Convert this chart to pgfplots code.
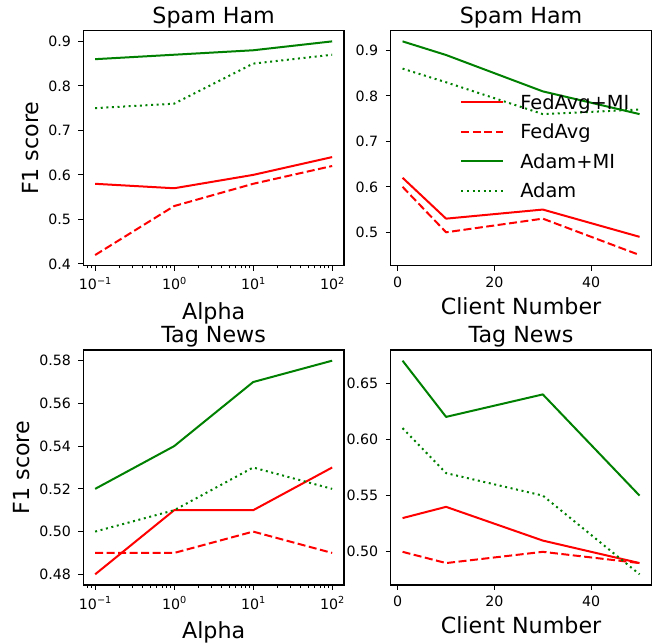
\documentclass[border=0pt]{standalone}
\usepackage{fontspec}
\setmainfont{DejaVu Sans}
\usepackage{pgfplots}
\pgfplotsset{compat=1.18}
\definecolor{mred}{RGB}{255,0,0}
\definecolor{mgreen}{RGB}{0,128,0}
\newcommand{\sups}[1]{10\raisebox{5.5pt}{\fontsize{9.7}{11}\selectfont #1}}
\pgfplotsset{
  mybase/.style={
    scale only axis, width=260.7pt, height=235pt, anchor=south west,
    axis line style={line width=1.1pt, black},
    every tick/.style={black, line width=1.1pt},
    every minor tick/.append style={line width=0.8pt},
    major tick length=4.9pt, minor tick length=2.8pt,
    tick align=outside, xtick pos=bottom, ytick pos=left,
    tick label style={font=\fontsize{14.2}{16}\selectfont},
    xticklabel style={yshift=-3pt},
    yticklabel style={xshift=-4pt},
    /pgf/number format/assume math mode=true,
    title style={font=\fontsize{22.2}{26}\selectfont, at={(axis description cs:0.5,1)}, anchor=base, yshift=1.5pt},
    label style={font=\fontsize{22.2}{26}\selectfont},
    every axis plot/.append style={line width=2pt, line join=round},
  },
  myalpha/.style={
    xmin=0.0708, xmax=141.25,
    xtick={0.1,1,10,100},
    xticklabels={{\sups{−1}},{\sups{0}},{\sups{1}},{\sups{2}}},
    minor xtick={0.08,0.09,0.2,0.3,0.4,0.5,0.6,0.7,0.8,0.9,2,3,4,5,6,7,8,9,20,30,40,50,60,70,80,90},
    xlabel={Alpha},
    xlabel style={at={(axis description cs:0.5,0)}, anchor=base, yshift=-54pt},
    ylabel={F1 score},
    ylabel style={at={(axis description cs:0,0.5)}, anchor=base},
  },
  myclient/.style={
    xmin=-1.45, xmax=52.45, xtick={0,20,40},
    xlabel={Client Number},
    xlabel style={at={(axis description cs:0.5,0)}, anchor=base, yshift=-49pt},
  },
  fmr/.style={mred, solid},
  fmd/.style={mred, dash pattern=on 8pt off 3.5pt},
  amr/.style={mgreen, solid},
  amd/.style={mgreen, dash pattern=on 2pt off 3.6pt},
}
\begin{document}
\begin{tikzpicture}
\useasboundingbox (0pt,0pt) rectangle (657pt,643pt);
% top left
\begin{semilogxaxis}[mybase, myalpha, at={(83.3pt,377.3pt)},
  title={Spam Ham}, ymin=0.396, ymax=0.924,
  ytick={0.4,0.5,0.6,0.7,0.8,0.9},
  yticklabel style={/pgf/number format/.cd, fixed, fixed zerofill, precision=1},
  ylabel style={yshift=45pt}]
\addplot[fmr] coordinates {(0.1,0.58)(1,0.57)(10,0.60)(100,0.64)};
\addplot[fmd] coordinates {(0.1,0.42)(1,0.53)(10,0.58)(100,0.62)};
\addplot[amr] coordinates {(0.1,0.86)(1,0.87)(10,0.88)(100,0.90)};
\addplot[amd] coordinates {(0.1,0.75)(1,0.76)(10,0.85)(100,0.87)};
\end{semilogxaxis}
% top right
\begin{axis}[mybase, myclient, at={(390.7pt,377.3pt)},
  title={Spam Ham}, ymin=0.4265, ymax=0.9435,
  ytick={0.5,0.6,0.7,0.8,0.9},
  yticklabel style={/pgf/number format/.cd, fixed, fixed zerofill, precision=1},
  legend style={draw=none, fill=none, at={(axis description cs:0.267,0.725)}, anchor=north west,
    inner sep=0pt, outer sep=0pt, row sep=15.2pt, column sep=16pt,
    font=\fontsize{19.4}{22}\selectfont,
    nodes={inner sep=0pt, text height=14.2pt, text depth=0pt}},
  legend cell align=left,
  legend image code/.code={\draw[#1] (0pt,0pt) -- (42pt,0pt);}]
\addplot[fmr] coordinates {(1,0.62)(10,0.53)(30,0.55)(50,0.49)};
\addplot[fmd] coordinates {(1,0.60)(10,0.50)(30,0.53)(50,0.45)};
\addplot[amr] coordinates {(1,0.92)(10,0.89)(30,0.81)(50,0.76)};
\addplot[amd] coordinates {(1,0.86)(10,0.83)(30,0.76)(50,0.77)};
\legend{FedAvg+MI,FedAvg,Adam+MI,Adam}
\end{axis}
% bottom left
\begin{semilogxaxis}[mybase, myalpha, at={(83.3pt,58pt)},
  title={Tag News}, ymin=0.475, ymax=0.585,
  ytick={0.48,0.50,0.52,0.54,0.56,0.58},
  yticklabel style={/pgf/number format/.cd, fixed, fixed zerofill, precision=2},
  ylabel style={yshift=54pt}]
\addplot[fmr] coordinates {(0.1,0.48)(1,0.51)(10,0.51)(100,0.53)};
\addplot[fmd] coordinates {(0.1,0.49)(1,0.49)(10,0.50)(100,0.49)};
\addplot[amr] coordinates {(0.1,0.52)(1,0.54)(10,0.57)(100,0.58)};
\addplot[amd] coordinates {(0.1,0.50)(1,0.51)(10,0.53)(100,0.52)};
\end{semilogxaxis}
% bottom right
\begin{axis}[mybase, myclient, at={(390.7pt,58pt)},
  title={Tag News}, ymin=0.4705, ymax=0.6795,
  ytick={0.50,0.55,0.60,0.65},
  yticklabel style={/pgf/number format/.cd, fixed, fixed zerofill, precision=2}]
\addplot[fmr] coordinates {(1,0.53)(10,0.54)(30,0.51)(50,0.49)};
\addplot[fmd] coordinates {(1,0.50)(10,0.49)(30,0.50)(50,0.49)};
\addplot[amr] coordinates {(1,0.67)(10,0.62)(30,0.64)(50,0.55)};
\addplot[amd] coordinates {(1,0.61)(10,0.57)(30,0.55)(50,0.48)};
\end{axis}
\end{tikzpicture}
\end{document}
